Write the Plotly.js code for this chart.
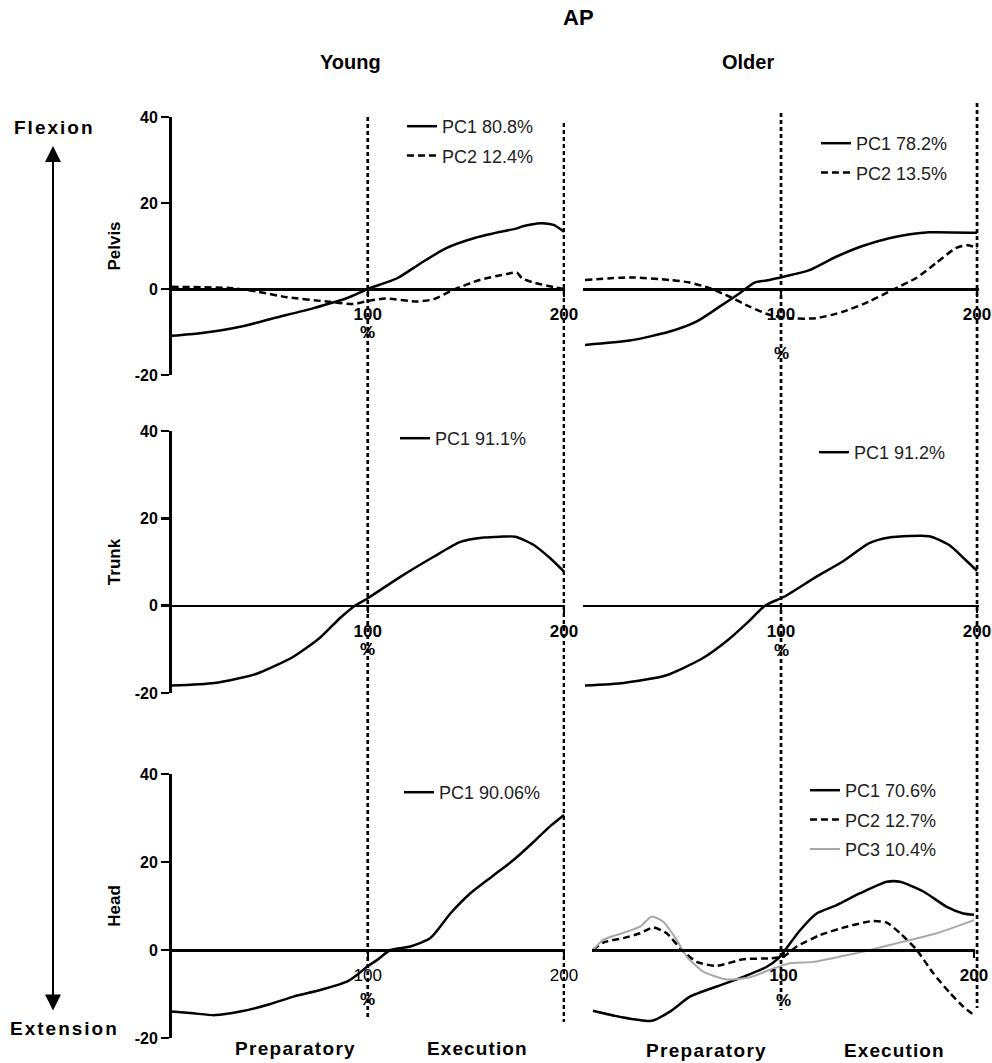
<!DOCTYPE html>
<html>
<head>
<meta charset="utf-8">
<script src="https://cdn.plot.ly/plotly-3.0.1.min.js"></script>
<style>html,body{margin:0;padding:0;background:#fff;}#chart{width:992px;height:1063px;}</style>
</head>
<body>
<div id="chart"></div>
<script>
// ---------------- DATA ----------------
const xTickVals = [100, 200];
const xTickText = ['100', '200'];
const yTickVals = [-20, 0, 20, 40];
const yTickText = ['-20', '0', '20', '40'];

// Pelvis – Young
const pelvisYoungPC1x = [0, 14.5, 35, 52, 72, 89.5, 100, 115, 127, 140, 154, 167.6, 176, 179, 188, 194.7, 200];
const pelvisYoungPC1y = [-10.9, -10.3, -8.8, -6.8, -4.5, -2.1, 0, 2.5, 6, 9.5, 11.8, 13.3, 14.1, 14.6, 15.3, 14.9, 13.3];
const pelvisYoungPC2x = [0, 31, 43.5, 58.8, 79, 92.7, 99, 109, 125, 133.5, 143.6, 157, 171, 176, 178.6, 184.5, 195, 200];
const pelvisYoungPC2y = [0.5, 0.2, -0.6, -1.9, -2.9, -3.5, -2.9, -2.2, -2.9, -2.4, -0.2, 2.1, 3.5, 3.8, 2.5, 1.5, 0.4, 0];

// Pelvis – Older
const pelvisOlderPC1x = [0, 22.9, 43.3, 56.8, 68.7, 78.9, 86.5, 94.1, 101.8, 114.5, 128.1, 141.6, 155.2, 168.8, 175.6, 200];
const pelvisOlderPC1y = [-13.0, -12.0, -9.9, -7.6, -4.1, -1.0, 1.5, 2.1, 2.9, 4.4, 7.5, 10.0, 11.8, 12.9, 13.2, 13.1];
const pelvisOlderPC2x = [0, 22.9, 43.3, 53.4, 63.6, 73.8, 84, 94.1, 104.3, 117.9, 131.5, 145, 156.9, 168.8, 179, 189.2, 195, 198.5, 200];
const pelvisOlderPC2y = [2.1, 2.7, 2.1, 1.5, 0.2, -1.8, -4.1, -6.0, -6.8, -6.8, -5.3, -2.9, -0.2, 2.5, 6.0, 9.5, 10.2, 9.8, 9.5];

// Trunk – Young
const trunkYoungPC1x = [0, 21.9, 43.4, 62.1, 75.5, 86.2, 93.5, 100, 116.6, 133.6, 147.2, 159.1, 167.6, 175.3, 184.6, 193.1, 200];
const trunkYoungPC1y = [-18.3, -17.7, -15.6, -11.7, -7.4, -2.7, 0, 1.7, 6.6, 11.2, 14.6, 15.6, 15.8, 15.8, 13.9, 10.8, 7.8];

// Trunk – Older
const trunkOlderPC1x = [0, 19.7, 41.1, 59.8, 73.1, 83.8, 91.8, 101.8, 117.9, 131.5, 145, 155.2, 175.6, 185.8, 194.3, 200];
const trunkOlderPC1y = [-18.3, -17.7, -16.0, -12.1, -7.8, -3.5, 0, 2.1, 6.6, 10.1, 14.3, 15.6, 15.9, 13.9, 10.4, 8.0];

// Head – Young
const headYoungPC1x = [0, 11.1, 22.2, 35, 48.6, 62.1, 75.8, 89.4, 94.5, 99.6, 104.7, 111.5, 121.7, 131.9, 142.1, 152.3, 164.2, 174.4, 184.6, 193.1, 200];
const headYoungPC1y = [-14.0, -14.4, -14.8, -14.0, -12.5, -10.6, -9.1, -7.2, -5.7, -3.8, -2.3, 0, 0.8, 2.7, 8.3, 12.9, 17.0, 20.5, 24.6, 28.2, 30.7];

// Head – Older
const headOlderPC1x = [0, 14.2, 30.8, 40.4, 50.9, 64.9, 78.9, 91.2, 97.3, 100.8, 108.7, 117.4, 127.9, 140.2, 154.2, 161.2, 173.4, 185.7, 194.4, 200];
const headOlderPC1y = [-13.8, -15.2, -16.1, -14.0, -10.6, -8.3, -6.1, -3.8, -1.9, 0, 4.5, 8.3, 10.2, 12.9, 15.5, 15.5, 13.3, 9.8, 8.3, 8.0];
const headOlderPC2x = [0, 5.4, 15.9, 24.7, 31.7, 38.7, 46.6, 54.4, 64.9, 78.9, 92.9, 99.9, 106.9, 119.2, 133.2, 147.1, 154.2, 161.2, 169.9, 178.6, 187.4, 194.4, 200];
const headOlderPC2y = [0, 1.7, 2.7, 3.8, 5.1, 3.8, 0, -2.7, -3.6, -2.1, -1.9, -1.5, 0.8, 3.4, 5.3, 6.6, 6.2, 3.8, 0, -5.3, -9.8, -12.9, -14.8];
const headOlderPC3x = [0, 5.4, 15.9, 24.7, 30.8, 36.9, 43.9, 49.2, 57.9, 70.2, 82.4, 92.9, 103.4, 115.6, 129.7, 145.4, 162.9, 180.4, 200];
const headOlderPC3y = [0, 2.3, 3.9, 5.3, 7.6, 6.4, 2.3, -1.5, -4.9, -6.7, -6.2, -4.5, -3.0, -2.7, -1.5, 0, 1.9, 3.8, 6.8];

// Legend names
const namesPelvisYoung = ['PC1 80.8%', 'PC2 12.4%'];
const namesPelvisOlder = ['PC1 78.2%', 'PC2 13.5%'];
const nameTrunkYoung = 'PC1 91.1%';
const nameTrunkOlder = 'PC1 91.2%';
const nameHeadYoung = 'PC1 90.06%';
const namesHeadOlder = ['PC1 70.6%', 'PC2 12.7%', 'PC3 10.4%'];

// ---------------- LAYOUT HELPERS ----------------
const W = 992, H = 1063;
const px = v => v / W;
const py = v => 1 - v / H;
const FONT = 'Arial, "Liberation Sans", sans-serif';

const rows = { pelvis: [117, 375], trunk: [431, 693], head: [774, 1038] };
const yDom = r => [py(r[1]), py(r[0])];
const zeroPos = r => py(r[0] + (r[1] - r[0]) * 2 / 3);

const solid = { color: '#000', width: 2.5, shape: 'spline', smoothing: 0.6 };
const dashed = { color: '#000', width: 2.5, dash: '7px,4px', shape: 'spline', smoothing: 0.6 };
const grey = { color: '#a8a8a8', width: 2, shape: 'spline', smoothing: 0.6 };

function tr(x, y, name, line, xa, ya, leg, grp) {
  return { type: 'scatter', mode: 'lines', x, y, name, line, xaxis: xa, yaxis: ya,
           legend: leg, legendgroup: grp, showlegend: true, hoverinfo: 'skip' };
}

const data = [
  tr(pelvisYoungPC1x, pelvisYoungPC1y, namesPelvisYoung[0], solid, 'x', 'y', 'legend', 'a1'),
  tr(pelvisYoungPC2x, pelvisYoungPC2y, namesPelvisYoung[1], dashed, 'x', 'y', 'legend', 'a2'),
  tr(pelvisOlderPC1x, pelvisOlderPC1y, namesPelvisOlder[0], solid, 'x2', 'y2', 'legend2', 'b1'),
  tr(pelvisOlderPC2x, pelvisOlderPC2y, namesPelvisOlder[1], dashed, 'x2', 'y2', 'legend2', 'b2'),
  tr(trunkYoungPC1x, trunkYoungPC1y, nameTrunkYoung, solid, 'x3', 'y3', 'legend3', 'c1'),
  tr(trunkOlderPC1x, trunkOlderPC1y, nameTrunkOlder, solid, 'x4', 'y4', 'legend4', 'd1'),
  tr(headYoungPC1x, headYoungPC1y, nameHeadYoung, solid, 'x5', 'y5', 'legend5', 'e1'),
  tr(headOlderPC1x, headOlderPC1y, namesHeadOlder[0], solid, 'x6', 'y6', 'legend6', 'f1'),
  tr(headOlderPC2x, headOlderPC2y, namesHeadOlder[1], dashed, 'x6', 'y6', 'legend6', 'f2'),
  tr(headOlderPC3x, headOlderPC3y, namesHeadOlder[2], grey, 'x6', 'y6', 'legend6', 'f3')
];

function xax(domPx, range, zp, bold) {
  return { domain: [px(domPx[0]), px(domPx[1])], range, anchor: 'free', position: zp,
    showline: true, linewidth: 2.5, linecolor: '#000', ticks: 'outside', ticklen: 6,
    tickwidth: 2.5, tickcolor: '#000', tickvals: xTickVals, ticktext: xTickText,
    tickfont: { family: FONT, size: 17, color: '#000', weight: bold ? 'bold' : 'normal' },
    ticklabelstandoff: 3, showgrid: false, zeroline: false, fixedrange: true };
}
function yaxLeft(r, anchor, title) {
  return { domain: yDom(r), range: [-20, 40], anchor, showline: true, linewidth: 2.5,
    linecolor: '#000', ticks: 'outside', ticklen: 8, tickwidth: 2.5, tickcolor: '#000',
    tickvals: yTickVals, ticktext: yTickText,
    tickfont: { family: FONT, size: 16, color: '#000', weight: 'bold' },
    showgrid: false, zeroline: false, fixedrange: true,
    title: { text: title, font: { family: FONT, size: 17, color: '#000', weight: 'bold' }, standoff: 10 } };
}
function yaxRight(r, anchor) {
  return { domain: yDom(r), range: [-20, 40], anchor, visible: false, fixedrange: true };
}
function leg(xPx, yPx) {
  return { x: px(xPx), y: py(yPx), xanchor: 'left', yanchor: 'top', bgcolor: 'rgba(0,0,0,0)',
    borderwidth: 0, font: { family: FONT, size: 18, color: '#222' }, tracegroupgap: 3,
    itemclick: false, itemdoubleclick: false };
}
function ann(text, xref, x, yPx, size, weight) {
  return { text, xref, yref: 'paper', x, y: py(yPx), xanchor: 'center', yanchor: 'middle',
    showarrow: false, font: { family: FONT, size, color: '#000', weight: weight || 'bold' } };
}
const spaced = (t, s) => '<span style="letter-spacing:' + s + 'px">' + t + '</span>';

const leftDom = [171.5, 565], leftRange = [0, 200.5];
const rightDom = [583, 979], rightRange = [-1.02, 201];
const rightHeadDom = [592, 975], rightHeadRange = [-0.52, 200.5];

const dashV = { color: '#000', width: 2.7, dash: '4px,3px' };

const layout = {
  width: W, height: H, margin: { l: 0, r: 0, t: 0, b: 0 },
  paper_bgcolor: '#fff', plot_bgcolor: 'rgba(0,0,0,0)', showlegend: true,
  font: { family: FONT, color: '#000' },
  xaxis: xax(leftDom, leftRange, zeroPos(rows.pelvis), true),
  xaxis2: xax(rightDom, rightRange, zeroPos(rows.pelvis), true),
  xaxis3: xax(leftDom, leftRange, zeroPos(rows.trunk), true),
  xaxis4: xax(rightDom, rightRange, zeroPos(rows.trunk), true),
  xaxis5: xax(leftDom, leftRange, zeroPos(rows.head), false),
  xaxis6: xax(rightHeadDom, rightHeadRange, zeroPos(rows.head), true),
  yaxis: yaxLeft(rows.pelvis, 'x', 'Pelvis'),
  yaxis2: yaxRight(rows.pelvis, 'x2'),
  yaxis3: yaxLeft(rows.trunk, 'x3', 'Trunk'),
  yaxis4: yaxRight(rows.trunk, 'x4'),
  yaxis5: yaxLeft(rows.head, 'x5', 'Head'),
  yaxis6: yaxRight(rows.head, 'x6'),
  legend: leg(402, 108),
  legend2: leg(816, 125),
  legend3: leg(395, 420),
  legend4: leg(814, 434),
  legend5: leg(399, 774),
  legend6: leg(805, 772),
  shapes: [
    { type: 'line', xref: 'x', yref: 'paper', x0: 100, x1: 100, y0: py(117), y1: py(1017), line: dashV },
    { type: 'line', xref: 'x', yref: 'paper', x0: 200, x1: 200, y0: py(123), y1: py(1022), line: dashV },
    { type: 'line', xref: 'x2', yref: 'paper', x0: 100, x1: 100, y0: py(113), y1: py(1010), line: dashV },
    { type: 'line', xref: 'x2', yref: 'paper', x0: 200, x1: 200, y0: py(103), y1: py(1008), line: dashV }
  ],
  annotations: [
    ann('AP', 'paper', px(578), 18, 22),
    ann('Young', 'paper', px(350), 62, 20),
    ann('Older', 'paper', px(748), 62, 20),
    ann(spaced('Flexion', 2), 'paper', px(54), 128, 19),
    ann(spaced('Extension', 2), 'paper', px(64), 1028, 19),
    { text: '', xref: 'paper', yref: 'paper', x: px(53), y: py(146), ax: 0, ay: 866, axref: 'pixel', ayref: 'pixel',
      showarrow: true, arrowside: 'end+start', arrowhead: 2, arrowsize: 1.6, arrowwidth: 2, arrowcolor: '#000',
      standoff: 0, startstandoff: 0, startarrowhead: 2, startarrowsize: 1.6 },
    ann('%', 'x', 100, 333, 17),
    ann('%', 'x2', 100, 354, 17),
    ann('%', 'x3', 100, 649, 17),
    ann('%', 'x4', 100, 650, 17),
    ann('%', 'x5', 100, 999, 17),
    ann('%', 'x6', 100, 1000, 17),
    ann(spaced('Preparatory', 1.3), 'paper', px(295), 1048, 19),
    ann(spaced('Execution', 1.1), 'paper', px(477), 1048, 19),
    ann(spaced('Preparatory', 1.3), 'paper', px(706), 1050, 19),
    ann(spaced('Execution', 1.1), 'paper', px(894), 1050, 19)
  ]
};

Plotly.newPlot('chart', data, layout, { staticPlot: true, displayModeBar: false });
</script>
</body>
</html>
